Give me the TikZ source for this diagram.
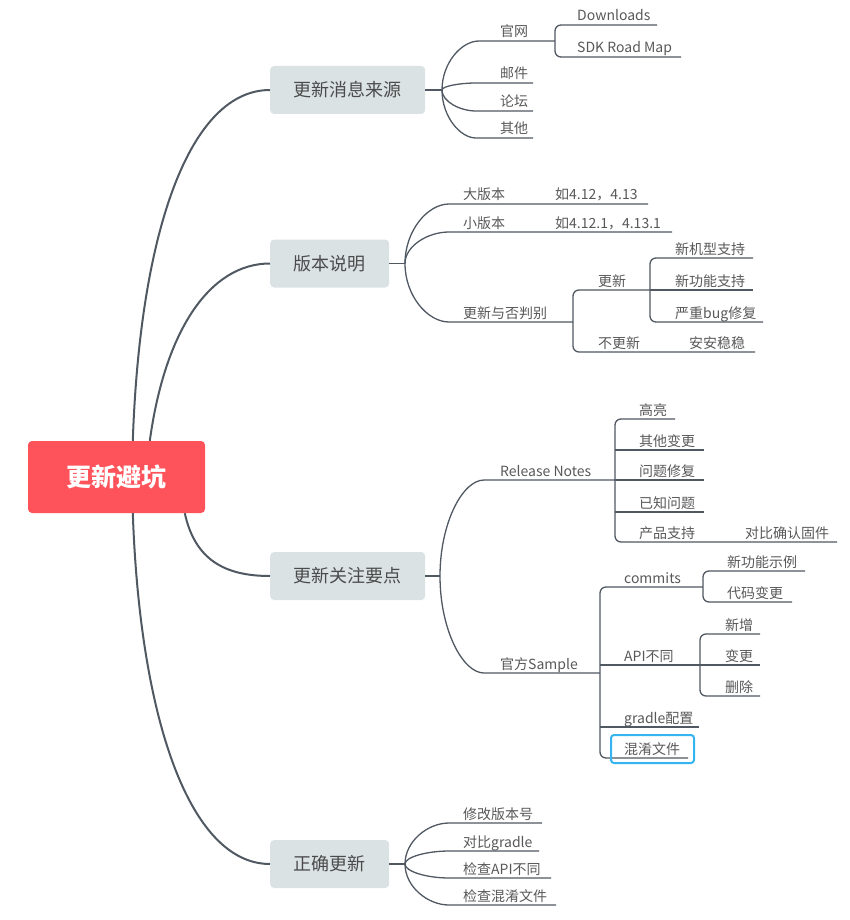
\documentclass[tikz,border=0pt]{standalone}
\usepackage{fontspec}
\setmainfont{Noto Sans CJK SC}
\usepackage{xcolor}
\usepackage{tikz}
\usetikzlibrary{calc}
\definecolor{rootred}{RGB}{255,83,92}
\definecolor{topicgrey}{RGB}{219,226,228}
\definecolor{linegrey}{RGB}{80,88,98}
\definecolor{topictext}{RGB}{75,75,75}
\definecolor{leaftext}{RGB}{88,88,88}
\definecolor{markblue}{RGB}{52,180,240}
\tikzset{
  rootbox/.style={rounded corners=4pt,fill=rootred,text=white,
    font=\bfseries\fontsize{25}{30}\selectfont,
    minimum width=177pt,minimum height=72pt,inner sep=0pt},
  topicbox/.style={rounded corners=4pt,fill=topicgrey,text=topictext,
    font=\fontsize{18}{22}\selectfont,
    minimum height=48pt,inner xsep=23.5pt,inner ysep=0pt},
  leaf/.style={anchor=base west,inner sep=0pt,text=leaftext,
    font=\fontsize{14}{17}\selectfont},
  trunk/.style={draw=linegrey,line width=2pt},
  twig/.style={draw=linegrey,line width=1.3pt,rounded corners=6pt},
  markbox/.style={draw=markblue,line width=2pt,rounded corners=3pt}
}

\begin{document}
\begin{tikzpicture}[x=1pt,y=-1pt]
  \useasboundingbox (0,0) rectangle (850,920);

  % root and main topics
  \node[rootbox] (root) at (116.5,477) {更新避坑};
  \node[topicbox,anchor=west] (src) at (270,90) {更新消息来源};
  \node[topicbox,anchor=west] (ver) at (270,263.5) {版本说明};
  \node[topicbox,anchor=west] (focus) at (270,576) {更新关注要点};
  \node[topicbox,anchor=west] (fix) at (270,864) {正确更新};

  \draw[trunk] ($(root.north west)+(105,0)$) .. controls (140,230) and (190,90) .. (src.west);
  \draw[trunk] ($(root.north west)+(122,0)$) .. controls (165,330) and (210,263.5) .. (ver.west);
  \draw[trunk] ($(root.south west)+(157,0)$) .. controls (195,560) and (225,576) .. (focus.west);
  \draw[trunk] ($(root.south west)+(105,0)$) .. controls (140,720) and (190,864) .. (fix.west);

  % 更新消息来源
  \coordinate (bp1) at (442,90);
  \draw[twig] (src.east) -- (bp1);
  \coordinate (site) at (485,41);
  \node[leaf] (site-t) at (500,37) {官网};
  \draw[twig] (bp1) .. controls ($(bp1)!0.55!(bp1 |- site)$) and ($(bp1 |- site)!0.45!(site)$) .. (site) -- (555,41);
  \node[leaf] (dl-t) at (577,21) {Downloads};
  \node[leaf] (map-t) at (577,53) {SDK Road Map};
  \draw[twig] (657,25) -- (555,25) -- (555,57) -- (681,57);
  \foreach \name/\txt/\y in {mail/邮件/83,forum/论坛/111,other/其他/138} {
    \coordinate (\name) at (482,\y);
    \node[leaf] (\name-t) at (500,\y-4) {\txt};
    \draw[twig] (bp1) .. controls ($(bp1)!0.55!(bp1 |- \name)$) and ($(bp1 |- \name)!0.45!(\name)$) .. (\name) -- (533,\y);
  }

  % 版本说明
  \coordinate (bp2) at (405,263.5);
  \draw[twig] (ver.east) -- (bp2);
  \coordinate (major) at (455,204);
  \node[leaf] (major-t) at (463,200) {大版本};
  \node[leaf] (major-e) at (555,200) {如4.12，4.13};
  \draw[twig] (bp2) .. controls ($(bp2)!0.55!(bp2 |- major)$) and ($(bp2 |- major)!0.45!(major)$) .. (major) -- (648,204);
  \coordinate (minor) at (455,232);
  \node[leaf] (minor-t) at (463,228) {小版本};
  \node[leaf] (minor-e) at (555,228) {如4.12.1，4.13.1};
  \draw[twig] (bp2) .. controls ($(bp2)!0.55!(bp2 |- minor)$) and ($(bp2 |- minor)!0.45!(minor)$) .. (minor) -- (672,232);
  \coordinate (judge) at (455,322);
  \node[leaf] (judge-t) at (463,318) {更新与否判别};
  \draw[twig] (bp2) .. controls ($(bp2)!0.55!(bp2 |- judge)$) and ($(bp2 |- judge)!0.45!(judge)$) .. (judge) -- (573,322);
  \node[leaf] (upd-t) at (598,286) {更新};
  \node[leaf] (noupd-t) at (598,348) {不更新};
  \node[leaf] (stable-t) at (689,348) {安安稳稳};
  \draw[twig] (650,290) -- (573,290) -- (573,352) -- (755,352);
  \node[leaf] (model-t) at (675,254) {新机型支持};
  \node[leaf] (feat-t) at (675,286) {新功能支持};
  \node[leaf] (bug-t) at (675,318) {严重bug修复};
  \draw[twig] (753,258) -- (650,258) -- (650,322) -- (763,322);
  \draw[twig] (650,290) -- (753,290);

  % 更新关注要点
  \coordinate (bp3) at (440,576);
  \draw[twig] (focus.east) -- (bp3);
  \coordinate (notes) at (490,480);
  \node[leaf] (notes-t) at (500,476) {Release Notes};
  \draw[twig] (bp3) .. controls ($(bp3)!0.55!(bp3 |- notes)$) and ($(bp3 |- notes)!0.45!(notes)$) .. (notes) -- (615,480);
  \draw[twig] (675,419) -- (615,419) -- (615,542) -- (837,542);
  \foreach \name/\txt/\y in {other2/其他变更/450,fixed/问题修复/480,known/已知问题/512} {
    \draw[twig] (615,\y) -- (704,\y);
    \node[leaf] (\name-t) at (639,\y-4) {\txt};
  }
  \node[leaf] (high-t) at (639,415) {高亮};
  \node[leaf] (prod-t) at (639,538) {产品支持};
  \node[leaf] (fw-t) at (745,538) {对比确认固件};

  \coordinate (sample) at (490,673);
  \node[leaf] (sample-t) at (500,669) {官方Sample};
  \draw[twig] (bp3) .. controls ($(bp3)!0.55!(bp3 |- sample)$) and ($(bp3 |- sample)!0.45!(sample)$) .. (sample) -- (600,673);
  \draw[twig] (703,587) -- (600,587) -- (600,758) -- (688,758);
  \draw[twig] (600,665) -- (700,665);
  \draw[twig] (600,727) -- (699,727);
  \node[leaf] (commit-t) at (624,583) {commits};
  \node[leaf] (api-t) at (624,661) {API不同};
  \node[leaf] (gradle-t) at (624,723) {gradle配置};
  \node[leaf] (obf-t) at (624,754) {混淆文件};
  \draw[markbox] (611,735) rectangle (694,763);

  \draw[twig] (805,571) -- (703,571) -- (703,602) -- (792,602);
  \node[leaf] (demo-t) at (727,567) {新功能示例};
  \node[leaf] (code-t) at (727,598) {代码变更};

  \draw[twig] (760,634) -- (700,634) -- (700,696) -- (760,696);
  \draw[twig] (700,665) -- (760,665);
  \node[leaf] (add-t) at (725,630) {新增};
  \node[leaf] (chg-t) at (725,661) {变更};
  \node[leaf] (del-t) at (725,692) {删除};

  % 正确更新
  \coordinate (bp4) at (405,864);
  \draw[twig] (fix.east) -- (bp4);
  \foreach \name/\txt/\y/\e in {bump/修改版本号/823/542,cmp/对比gradle/851/539,
      chkapi/检查API不同/878/551,chkobf/检查混淆文件/905/556} {
    \coordinate (\name) at (455,\y);
    \node[leaf] (\name-t) at (463,\y-4) {\txt};
    \draw[twig] (bp4) .. controls ($(bp4)!0.55!(bp4 |- \name)$) and ($(bp4 |- \name)!0.45!(\name)$) .. (\name) -- (\e,\y);
  }
\end{tikzpicture}
\end{document}
